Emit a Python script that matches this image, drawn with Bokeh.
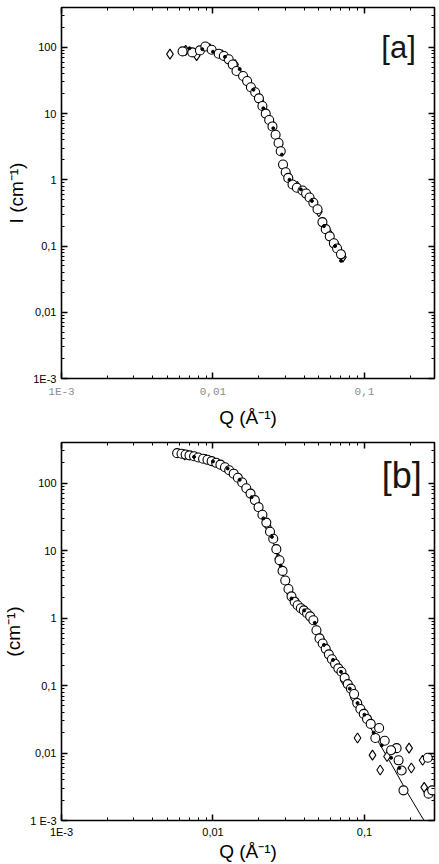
from bokeh.plotting import figure
from bokeh.layouts import column
from bokeh.models import (LogAxis, FixedTicker, CustomJSTickFormatter, Label,
                          Range1d)
from bokeh.embed import file_html
from bokeh.resources import INLINE

# ---- axis ticks ----
x_ticks = [0.001, 0.01, 0.1]
x_tick_labels = ["1E-3", "0,01", "0,1"]
y_ticks = [0.001, 0.01, 0.1, 1, 10, 100]
y_tick_labels_a = ["1E-3", "0,01", "0,1", "1", "10", "100"]
y_tick_labels_b = ["1 E-3", "0,01", "0,1", "1", "10", "100"]

# ---- panel [a] ----
a_circ_q = [0.0063, 0.0073, 0.0082, 0.0089, 0.0098, 0.0109, 0.0118, 0.0127, 0.0135,
            0.0143, 0.0158, 0.0168, 0.0178, 0.0190, 0.0201, 0.0212, 0.0223, 0.0235,
            0.0247, 0.0259, 0.0271, 0.0280, 0.0290, 0.0302, 0.0314, 0.0335, 0.0358,
            0.0390, 0.0412, 0.0434, 0.0460, 0.0490, 0.0528, 0.0555, 0.0590, 0.0628,
            0.0660, 0.0700]
a_circ_i = [87, 84, 90, 103, 92, 80, 74, 66, 55, 44, 37, 31, 25, 21, 17, 13, 10, 8,
            6.4, 4.8, 3.6, 2.7, 1.7, 1.3, 1.07, 0.85, 0.76, 0.69, 0.62, 0.54, 0.45,
            0.36, 0.23, 0.18, 0.14, 0.11, 0.092, 0.075]
a_diam_q = [0.0052, 0.0066, 0.0078, 0.0095, 0.0115, 0.0140, 0.0170, 0.0205, 0.0240,
            0.0275, 0.0310, 0.0360, 0.0420, 0.0500, 0.0580, 0.0660, 0.0720]
a_diam_i = [79, 90, 75, 96, 77, 55, 30, 16, 7.5, 3.4, 1.2, 0.8, 0.6, 0.33, 0.16,
            0.10, 0.068]
a_dot_q = [0.0070, 0.0085, 0.0100, 0.0120, 0.0150, 0.0185, 0.0215, 0.0250, 0.0285,
           0.0320, 0.0380, 0.0450, 0.0540, 0.0640, 0.0700]
a_dot_i = [97, 94, 86, 72, 47, 23, 12, 6.0, 2.4, 1.0, 0.72, 0.48, 0.20, 0.10, 0.06]

# ---- panel [b] ----
b_circ_q = [0.0058, 0.0062, 0.0066, 0.0070, 0.0075, 0.0080, 0.0086, 0.0092, 0.0098,
            0.0105, 0.0112, 0.0120, 0.0128, 0.0137, 0.0146, 0.0156, 0.0166, 0.0177,
            0.0189, 0.0200, 0.0212, 0.0225, 0.0238, 0.0250, 0.0262, 0.0275, 0.0288,
            0.0300, 0.0315, 0.0330, 0.0346, 0.0362, 0.0380, 0.0398, 0.0418, 0.0438,
            0.0460, 0.0482, 0.0505, 0.0530, 0.0555, 0.0582, 0.0610, 0.0640, 0.0672,
            0.0705, 0.0740, 0.0776, 0.0814, 0.0854, 0.0896, 0.0940, 0.0990, 0.1040,
            0.1100, 0.125, 0.118, 0.136, 0.163, 0.168, 0.176, 0.181, 0.150, 0.262,
            0.265, 0.280]
b_circ_i = [278, 272, 265, 258, 250, 240, 230, 222, 212, 200, 188, 172, 155, 138, 120,
            102, 84, 70, 56, 44, 34, 26, 19, 15, 10.5, 7.2, 5.0, 3.6, 2.7, 2.1, 1.75,
            1.55, 1.4, 1.3, 1.18, 1.06, 0.93, 0.66, 0.50, 0.42, 0.35, 0.29, 0.245,
            0.21, 0.18, 0.16, 0.13, 0.105, 0.09, 0.075, 0.055, 0.045, 0.038, 0.032,
            0.027, 0.0235, 0.0167, 0.0152, 0.0118, 0.0078, 0.0055, 0.0028, 0.011,
            0.0085, 0.0025, 0.0028]
b_diam_q = [0.0065, 0.0090, 0.0130, 0.0160, 0.0195, 0.0230, 0.0270, 0.0320, 0.0370,
            0.0440, 0.0520, 0.0620, 0.0730, 0.0850, 0.0960, 0.090, 0.113, 0.127, 0.141,
            0.197, 0.204, 0.242, 0.248]
b_diam_i = [262, 226, 150, 93, 50, 23, 7.6, 2.4, 1.45, 1.0, 0.48, 0.22, 0.12, 0.066,
            0.044, 0.0167, 0.0093, 0.0056, 0.0089, 0.0118, 0.0060, 0.0078, 0.0031]
b_dot_q = [0.0075, 0.0100, 0.0125, 0.0150, 0.0180, 0.0215, 0.0245, 0.0280, 0.0330,
           0.0400, 0.0470, 0.0540, 0.0620, 0.0700, 0.0800, 0.0900, 0.1000, 0.1150,
           0.1300, 0.1500, 0.1700]
b_dot_i = [245, 210, 165, 112, 62, 30, 16, 6.0, 1.95, 1.3, 0.85, 0.40, 0.24, 0.16,
           0.09, 0.055, 0.037, 0.020, 0.013, 0.0085, 0.006]
b_fit_q = [0.0058, 0.008, 0.01, 0.0125, 0.015, 0.018, 0.021, 0.024, 0.027, 0.030,
           0.034, 0.040, 0.046, 0.050, 0.055, 0.065, 0.075, 0.09, 0.101, 0.125, 0.152,
           0.19, 0.237, 0.26]
b_fit_i = [280, 242, 215, 168, 115, 66, 34, 18, 7.5, 3.6, 1.9, 1.3, 0.95, 0.65, 0.38,
           0.20, 0.12, 0.055, 0.033, 0.014, 0.0066, 0.0027, 0.00117, 0.00085]

X_RANGE = (0.001, 0.29)
Y_RANGE = (0.001, 400)

FONT = "Liberation Sans"


def decade_minors(lo_exp, hi_exp):
    return [m * 10.0 ** e for e in range(lo_exp, hi_exp) for m in range(2, 10)]


def formatter(vals, labs):
    return CustomJSTickFormatter(args=dict(vals=vals, labs=labs), code="""
        const i = vals.findIndex(v => Math.abs(Math.log10(v) - Math.log10(tick)) < 1e-6);
        return i >= 0 ? labs[i] : "";
    """)


def style_axis(ax, ticks, minors, labels=None, color="black", size="11px", font=FONT):
    ax.ticker = FixedTicker(ticks=ticks, minor_ticks=minors)
    ax.axis_line_color = None
    ax.major_tick_in = 6
    ax.major_tick_out = 0
    ax.minor_tick_in = 3
    ax.minor_tick_out = 0
    ax.major_tick_line_color = "black"
    ax.minor_tick_line_color = "black"
    ax.major_tick_line_width = 1.5
    ax.minor_tick_line_width = 1
    if labels is None:
        ax.major_label_text_font_size = "0px"
        ax.major_label_standoff = 0
        ax.formatter = CustomJSTickFormatter(code="return '';")
    else:
        ax.formatter = formatter(ticks, labels)
        ax.major_label_text_font_size = size
        ax.major_label_text_color = color
        ax.major_label_text_font = font


def make_panel(height, border, ylab, ylabels, xlab_color, xlab_font, tag, tag_pos,
               tag_size, xlab_standoff, xtitle_standoff):
    left, right, top, bottom = border
    p = figure(width=439, height=height, x_axis_type="log", y_axis_type="log",
               x_range=Range1d(*X_RANGE), y_range=Range1d(*Y_RANGE),
               output_backend="svg", toolbar_location=None,
               min_border_left=left, min_border_right=right,
               min_border_top=top, min_border_bottom=bottom)
    p.grid.visible = False
    p.outline_line_color = "black"
    p.outline_line_width = 1.6
    p.background_fill_color = "white"
    p.border_fill_color = "white"

    xax = p.below[0]
    yax = p.left[0]

    xminor = decade_minors(-3, 0)
    yminor = decade_minors(-3, 3)
    style_axis(xax, x_ticks, xminor, x_tick_labels, color=xlab_color,
               size="11px", font=xlab_font)
    style_axis(yax, y_ticks, yminor, ylabels)
    xax.major_label_standoff = xlab_standoff
    yax.major_label_standoff = 5

    xax.axis_label = "Q (Å⁻¹)"
    yax.axis_label = ylab
    for ax in (xax, yax):
        ax.axis_label_text_font = FONT
        ax.axis_label_text_font_size = "19px"
        ax.axis_label_text_font_style = "normal"
        ax.axis_label_text_color = "black"
    xax.axis_label_standoff = xtitle_standoff
    yax.axis_label_standoff = 3

    # mirrored tick marks on the top and right edges of the frame
    top_ax = LogAxis()
    style_axis(top_ax, x_ticks, xminor)
    p.add_layout(top_ax, "above")
    right_ax = LogAxis()
    style_axis(right_ax, y_ticks, yminor)
    p.add_layout(right_ax, "right")

    p.add_layout(Label(x=tag_pos[0], y=tag_pos[1], text=tag, text_align="center",
                       text_baseline="middle", text_font=FONT,
                       text_font_size=tag_size, text_color="#161616"))
    return p


pa = make_panel(430, (56, 2, 7, 48), "I (cm⁻¹)", y_tick_labels_a, "#8c8c8c",
                "Liberation Mono", "[a]", (0.168, 100), "31px", 7, 6)
pa.scatter(a_diam_q, a_diam_i, marker="diamond", size=10, fill_color="white",
           line_color="black", line_width=1.1)
pa.scatter(a_circ_q, a_circ_i, marker="circle", size=9, fill_color="white",
           line_color="black", line_width=1.1)
pa.scatter(a_dot_q, a_dot_i, marker="circle", size=3, fill_color="black",
           line_color="black")

pb = make_panel(434, (52, 5, 12, 43), "(cm⁻¹)", y_tick_labels_b, "black", FONT,
                "[b]", (0.176, 131), "36px", 5, 0)
pb.line(b_fit_q, b_fit_i, line_color="black", line_width=1)
pb.scatter(b_diam_q, b_diam_i, marker="diamond", size=10, fill_color="white",
           line_color="black", line_width=1.1)
pb.scatter(b_circ_q, b_circ_i, marker="circle", size=9, fill_color="white",
           line_color="black", line_width=1.1)
pb.scatter(b_dot_q, b_dot_i, marker="circle", size=3, fill_color="black",
           line_color="black")

layout = column(pa, pb, spacing=0)
open("out.html", "w").write(file_html(layout, INLINE))
